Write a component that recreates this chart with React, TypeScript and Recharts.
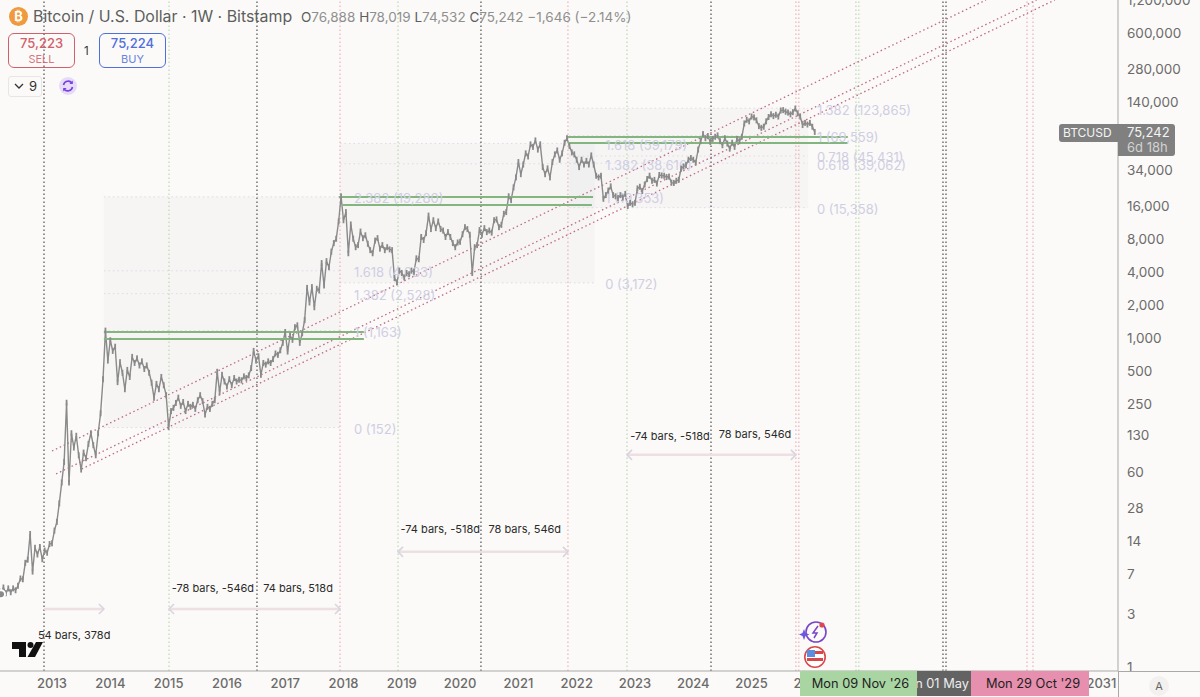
import React from 'react';
import { ComposedChart, Line, XAxis, YAxis, ReferenceLine, ReferenceArea, ReferenceDot } from 'recharts';

// half-monthly price readings (alternating highs and lows, so it looks like the candles)
const y2012 = [6, 6, 5.6, 4.6, 5.3, 4.7, 5.2, 4.8, 5.2, 5.0, 5.5, 6.4, 6.3, 8.9, 9.5, 16.3, 7.4, 12.2, 10.6, 12.4, 9.6, 11.5, 11, 13.2];
const y2013 = [13.4, 17.5, 21, 31, 48, 74, 256, 48, 135, 100, 128, 85, 63, 90, 80, 108, 135, 105, 85, 135, 205, 420, 1163, 620];
const y2014 = [950, 760, 830, 395, 600, 480, 340, 510, 440, 670, 590, 650, 560, 610, 520, 560, 480, 390, 284, 380, 340, 440, 370, 300];
const y2015 = [154, 215, 230, 255, 285, 240, 260, 215, 250, 235, 245, 225, 270, 300, 265, 200, 235, 225, 250, 270, 490, 320, 460, 400];
const y2016 = [360, 420, 370, 430, 400, 415, 410, 445, 430, 455, 530, 760, 620, 680, 460, 590, 570, 610, 590, 640, 720, 700, 770, 900];
const y2017 = [1130, 750, 1050, 960, 1250, 1300, 900, 1100, 1450, 2850, 2100, 2900, 1900, 2800, 2700, 4800, 3000, 5000, 4400, 6100, 7300, 8000, 11500, 19500];
const y2018 = [11800, 14000, 5900, 10800, 8000, 6700, 7000, 9300, 8100, 8600, 7200, 6300, 5900, 7700, 8100, 6500, 7000, 6300, 6700, 6400, 6300, 3500, 3200, 4100];
const y2019 = [3900, 3550, 3900, 3800, 4100, 4000, 5300, 5200, 8300, 7800, 9000, 13000, 9800, 11800, 10000, 11500, 9800, 9500, 8300, 9200, 8300, 7300, 6700, 7400];
const y2020 = [7500, 8800, 10200, 9800, 8700, 3900, 6700, 7000, 9600, 8700, 10000, 9200, 9500, 9100, 11800, 12000, 10200, 10700, 13500, 14000, 19500, 18000, 23500, 29000];
const y2021 = [40000, 31000, 38000, 48000, 45000, 58000, 55000, 63000, 52000, 58000, 36000, 31000, 35000, 29000, 40000, 47000, 51000, 42000, 48000, 60000, 66000, 56000, 49000, 47000];
const y2022 = [42000, 36000, 42000, 38000, 41000, 38000, 46000, 38000, 30000, 29000, 30000, 18500, 20000, 22000, 24000, 20000, 19500, 18800, 20000, 19000, 20500, 15900, 17000, 16500];
const y2023 = [17000, 23000, 23800, 21800, 25000, 28000, 30000, 27000, 27500, 25500, 30500, 30200, 30000, 29200, 29500, 26000, 25800, 27000, 27500, 34800, 36500, 37500, 42000, 43500];
const y2024 = [42000, 39500, 52000, 62000, 72000, 66000, 69000, 61000, 65000, 68000, 70000, 62000, 57000, 66000, 59000, 53000, 60000, 55000, 65000, 62000, 68000, 90000, 97000, 94000];
const y2025 = [104000, 102000, 96000, 85000, 82000, 84000, 94000, 103000, 109000, 105000, 108000, 104000, 118000, 119000, 115000, 113000, 109000, 114000, 123000, 111000, 104000, 87000, 91000, 88000];
const y2026 = [91000, 84000, 75242];

const priceYears = [y2012, y2013, y2014, y2015, y2016, y2017, y2018, y2019, y2020, y2021, y2022, y2023, y2024, y2025, y2026];
const priceData = priceYears.flatMap((vals, i) => vals.map((price, k) => ({ year: 2012 + i + k / 24, price })));

// 2027-2030 sit under the date tags
const yearTicks = [2013, 2014, 2015, 2016, 2017, 2018, 2019, 2020, 2021, 2022, 2023, 2024, 2025, 2026, 2031];
const priceTicks = [1, 3, 7, 14, 28, 60, 130, 250, 500, 1000, 2000, 4000, 8000, 16000, 34000, 140000, 280000, 600000, 1200000];

// cycle markers, by date
const darkCycleLines = [2012.863, 2016.516, 2020.358, 2024.304, 2028.283, 2028.335];
const greenCycleLines = [2015.007, 2018.935, 2022.863, 2026.79, 2026.84];
const redCycleLines = [2017.94, 2021.85, 2025.76, 2025.81, 2029.724, 2029.827];

// rising channel: [startYear, startPrice, endYear, endPrice]
const channelLines = [
  [2013.0, 93, 2029.02, 1200000],
  [2013.07, 57.5, 2029.89, 1200000],
  [2013.51, 63.8, 2030.2, 1200000],
];

// horizontal zones: [fromYear, toYear, price]
const greenLevels = [
  [2013.89, 2018.35, 1132],
  [2013.89, 2018.35, 978],
  [2017.92, 2022.28, 19250],
  [2017.98, 2022.26, 16270],
  [2021.83, 2026.65, 67800],
  [2021.85, 2026.65, 59800],
];

// fib boxes: [fromYear, toYear, bottom, top]
const fibBoxes = [
  [2013.89, 2017.94, 152, 19280],
  [2017.94, 2022.31, 3172, 59179],
  [2021.87, 2025.97, 15358, 123865],
];
const fibLevels = [
  { box: 0, price: 152, text: '0 (152)' },
  { box: 0, price: 1163, text: '1 (1,163)' },
  { box: 0, price: 2528, text: '1.382 (2,528)' },
  { box: 0, price: 4083, text: '1.618 (4,083)' },
  { box: 0, price: 19280, text: '2.382 (19,280)' },
  { box: 1, price: 3172, text: '0 (3,172)' },
  { box: 1, price: 19353, text: '1 (19,353)' },
  { box: 1, price: 38616, text: '1.382 (38,616)' },
  { box: 1, price: 59179, text: '1.618 (59,179)' },
  { box: 2, price: 15358, text: '0 (15,358)' },
  { box: 2, price: 39062, text: '0.618 (39,062)' },
  { box: 2, price: 45431, text: '0.718 (45,431)' },
  { box: 2, price: 69559, text: '1 (69,559)' },
  { box: 2, price: 123865, text: '1.382 (123,865)' },
];
const fibLabelYears = [2018.18, 2022.49, 2026.12];

// date ranges: [fromYear, toYear, price]; the head sits on toYear
const rangeArrows = [
  [2012.863, 2013.89, 3.38],
  [2016.516, 2015.007, 3.38],
  [2016.516, 2017.94, 3.38],
  [2020.358, 2018.935, 11.2],
  [2020.358, 2021.85, 11.2],
  [2024.304, 2022.863, 85.8],
  [2024.304, 2025.76, 85.8],
];
const rangeLabels = [
  { year: 2013.38, price: 1.96, text: '54 bars, 378d' },
  { year: 2015.76, price: 5.25, text: '-78 bars, -546d' },
  { year: 2017.22, price: 5.25, text: '74 bars, 518d' },
  { year: 2019.66, price: 18.2, text: '-74 bars, -518d' },
  { year: 2021.11, price: 18.2, text: '78 bars, 546d' },
  { year: 2023.6, price: 127, text: '-74 bars, -518d' },
  { year: 2025.06, price: 133, text: '78 bars, 546d' },
];

const FONT = 'Inter, "Noto Sans", sans-serif';
const BG = '#fbfaf8';
const AXIS = '#a9a9a9';
const CANDLE = '#8a8a8a';

const textShape = (text: string, color: string, size: number, anchor: string, dy = '0.35em') => (p: any) => (
  <text x={p.cx} y={p.cy} dy={dy} textAnchor={anchor} fontSize={size} fill={color} fontFamily={FONT}>{text}</text>
);

const arrowHead = (dir: number) => (p: any) => (
  <path d={`M${p.cx - dir * 5} ${p.cy - 5} L${p.cx} ${p.cy} L${p.cx - dir * 5} ${p.cy + 5}`} fill="none" stroke="#d8d4e0" strokeWidth={1.6} />
);

// small body at each reading so the line reads as candles
const candleDot = (p: any) => (
  <rect key={p.index} x={p.cx - 0.9} y={p.cy - 3} width={1.8} height={6} fill={CANDLE} />
);

const Box = ({ x, y, w, h, style, children }: any) => (
  <div style={{ position: 'absolute', left: x, top: y, width: w, height: h, boxSizing: 'border-box', fontFamily: FONT, ...style }}>{children}</div>
);

const TradeBox = ({ x, color, price, side }: any) => (
  <Box x={x} y={33} w={67} h={35} style={{ border: `1px solid ${color}`, borderRadius: 6, textAlign: 'center', color }}>
    <div style={{ fontSize: 13, lineHeight: '17px', marginTop: 1, fontWeight: 500 }}>{price}</div>
    <div style={{ fontSize: 11, lineHeight: '14px', opacity: 0.85 }}>{side}</div>
  </Box>
);

const DateTag = ({ x, w, bg, color, shift = 0, children }: any) => (
  <Box x={x} y={671} w={w} h={25} style={{ background: bg, color, fontSize: 12.8, lineHeight: '25px', textAlign: 'center', overflow: 'hidden', whiteSpace: 'nowrap', display: 'flex', justifyContent: 'center', paddingLeft: shift }}>
    <span style={{ flexShrink: 0 }}>{children}</span>
  </Box>
);

export default function App() {
  return (
    <div style={{ position: 'absolute', left: 0, top: 0, width: 1200, height: 697, background: BG, overflow: 'hidden' }}>
      <ComposedChart width={1200} height={697} data={priceData} margin={{ top: 0, right: 0, bottom: 0, left: 0 }}>
        <XAxis
          dataKey="year" type="number" domain={[2012.108, 2031.285]} allowDataOverflow
          ticks={yearTicks} interval={0} tickLine={false} tickSize={0} tickMargin={8} height={26}
          tick={{ fill: '#6b6b6b', fontSize: 13, fontFamily: FONT, fontWeight: 500 }} stroke={AXIS}
        />
        <YAxis
          orientation="right" type="number" scale="log" domain={[0.919, 1200000]} allowDataOverflow
          ticks={priceTicks} interval={0} tickLine={false} tickSize={0} tickMargin={9} width={82}
          tickFormatter={(v: number) => v.toLocaleString('en-US')}
          tick={{ fill: '#6b6b6b', fontSize: 13.5, fontFamily: FONT, textAnchor: 'start' }} stroke={AXIS}
        />

        {fibBoxes.map((b, i) => (
          <ReferenceArea key={`box${i}`} x1={b[0]} x2={b[1]} y1={b[2]} y2={b[3]} fill="#8a8a9a" fillOpacity={0.04} stroke="none" />
        ))}
        {fibLevels.map((l, i) => (
          <ReferenceLine key={`lvl${i}`} segment={[{ x: fibBoxes[l.box][0], y: l.price }, { x: fibBoxes[l.box][1], y: l.price }]} stroke="#dcdae6" strokeDasharray="1.5 3" />
        ))}
        {fibLevels.map((l, i) => (
          <ReferenceDot key={`lab${i}`} x={fibLabelYears[l.box]} y={l.price} shape={textShape(l.text, '#d0cee3', 13, 'start', '0.5em')} />
        ))}

        {darkCycleLines.map((x) => <ReferenceLine key={`d${x}`} x={x} stroke="#4f4f4f" strokeWidth={1.2} strokeDasharray="1.5 2.5" />)}
        {greenCycleLines.map((x) => <ReferenceLine key={`g${x}`} x={x} stroke="#b9d8b4" strokeWidth={1.2} strokeDasharray="1.5 2.5" />)}
        {redCycleLines.map((x) => <ReferenceLine key={`r${x}`} x={x} stroke="#eab2b8" strokeWidth={1.2} strokeDasharray="1.5 2.5" />)}

        {channelLines.map((c, i) => (
          <ReferenceLine key={`ch${i}`} segment={[{ x: c[0], y: c[1] }, { x: c[2], y: c[3] }]} stroke="#bd6a8a" strokeWidth={1.3} strokeDasharray="1.5 2.8" />
        ))}

        <Line dataKey="price" type="linear" stroke={CANDLE} strokeWidth={1.4} dot={candleDot} isAnimationActive={false} />

        {greenLevels.map((g, i) => (
          <ReferenceLine key={`z${i}`} segment={[{ x: g[0], y: g[2] }, { x: g[1], y: g[2] }]} stroke="#82b67e" strokeWidth={2} />
        ))}

        {rangeArrows.map((a, i) => (
          <ReferenceLine key={`a${i}`} segment={[{ x: a[0], y: a[2] }, { x: a[1], y: a[2] }]} stroke="#eee0e2" strokeWidth={2.5} />
        ))}
        {rangeArrows.map((a, i) => (
          <ReferenceDot key={`h${i}`} x={a[1]} y={a[2]} shape={arrowHead(a[1] > a[0] ? 1 : -1)} />
        ))}
        {rangeLabels.map((l, i) => (
          <ReferenceDot key={`t${i}`} x={l.year} y={l.price} shape={textShape(l.text, '#2a2a2a', 11, 'middle')} />
        ))}
      </ComposedChart>

      {/* axis lines run on through the corner */}
      <Box x={1118} y={671} w={1} h={26} style={{ background: AXIS }} />
      <Box x={1118} y={671} w={82} h={1} style={{ background: AXIS }} />

      {/* header */}
      <svg style={{ position: 'absolute', left: 9, top: 7 }} width={19} height={19}>
        <circle cx={9.5} cy={9.5} r={9.5} fill="#ef9a3c" />
        <text x={9.5} y={14} textAnchor="middle" fontSize={13} fontWeight={700} fill="#fff" fontFamily={FONT}>₿</text>
      </svg>
      <Box x={33} y={6} w={265} h={22} style={{ fontSize: 15.9, lineHeight: '22px', color: '#5e5e5e', whiteSpace: 'nowrap' }}>Bitcoin / U.S. Dollar · 1W · Bitstamp</Box>
      <Box x={301} y={6} w={310} h={22} style={{ fontSize: 13.5, lineHeight: '22px', color: '#8f8f8f', whiteSpace: 'nowrap' }}>
        <span style={{ color: '#5e5e5e' }}>O</span>76,888 <span style={{ color: '#5e5e5e' }}>H</span>78,019 <span style={{ color: '#5e5e5e' }}>L</span>74,532 <span style={{ color: '#5e5e5e' }}>C</span>75,242 −1,646 (−2.14%)
      </Box>
      <TradeBox x={8} color="#d0606c" price="75,223" side="SELL" />
      <Box x={84} y={42} w={8} h={18} style={{ fontSize: 11.5, lineHeight: '18px', color: '#333' }}>1</Box>
      <TradeBox x={99} color="#4f6fdc" price="75,224" side="BUY" />
      <Box x={8} y={76} w={34} h={21} style={{ border: '1px solid #e6e6e4', borderRadius: 3, fontSize: 13, lineHeight: '19px', color: '#333', paddingLeft: 20 }}>9</Box>
      <svg style={{ position: 'absolute', left: 14, top: 83 }} width={10} height={7}>
        <path d="M1 1 L5 5 L9 1" fill="none" stroke="#333" strokeWidth={1.3} />
      </svg>
      <svg style={{ position: 'absolute', left: 59, top: 77 }} width={18} height={18}>
        <circle cx={9} cy={9} r={9} fill="#e7dcf8" />
        <path d="M4.5 8 A4.8 4.8 0 0 1 13 6 M13.5 10 A4.8 4.8 0 0 1 5 12" fill="none" stroke="#7a3fe0" strokeWidth={1.6} />
        <path d="M13.8 3.4 V7 H10.4 M4.2 14.6 V11 H7.6" fill="#7a3fe0" />
      </svg>

      {/* last price badge */}
      <Box x={1059} y={124} w={60} h={18} style={{ background: '#808080', borderRadius: '3px 0 0 3px', color: '#f4f4f4', fontSize: 12, lineHeight: '18px', paddingLeft: 4 }}>BTCUSD</Box>
      <Box x={1118} y={124} w={57} h={32} style={{ background: '#808080', borderRadius: '0 3px 3px 0', color: '#f4f4f4', fontSize: 13, lineHeight: '15px', paddingLeft: 9, paddingTop: 1 }}>
        75,242<div style={{ color: '#d2d2d2' }}>6d 18h</div>
      </Box>

      {/* vertical line date tags */}
      <DateTag x={800} w={117} bg="#a9d5a3" color="#1f1f1f" shift={4}>Mon 09 Nov '26</DateTag>
      <DateTag x={917} w={54} bg="#636363" color="#eeeeee">Mon 01 May '28</DateTag>
      <DateTag x={971} w={118} bg="#e68fae" color="#1f1f1f" shift={6}>Mon 29 Oct '29</DateTag>

      <Box x={1149} y={676} w={20} h={20} style={{ background: '#f2f1ef', borderRadius: 10, textAlign: 'center', fontSize: 11, lineHeight: '20px', color: '#666' }}>A</Box>

      {/* logo */}
      <svg style={{ position: 'absolute', left: 12, top: 641 }} width={32} height={17}>
        <path d="M0 1 H14 V16 H7 V8 H0 Z" fill="#111" />
        <circle cx={18.5} cy={4} r={3} fill="#111" />
        <path d="M24 1 H31 L23 16 H15.5 Z" fill="#111" />
      </svg>

      {/* news and event icons */}
      <svg style={{ position: 'absolute', left: 799, top: 620 }} width={32} height={50}>
        <circle cx={17} cy={12} r={10} fill="none" stroke="#7b45c8" strokeWidth={1.6} />
        <path d="M19 6 L14 13 H18 L15 18" fill="none" stroke="#7b45c8" strokeWidth={1.5} />
        <circle cx={23} cy={5} r={2.6} fill="#e0474c" />
        <path d="M5 9 L6.5 13 L10.5 14.5 L6.5 16 L5 20 L3.5 16 L0 14.5 L3.5 13 Z" fill="#6a5ae0" />
        <circle cx={16} cy={37} r={10.2} fill="#fff" stroke="#d8484a" strokeWidth={1.6} />
        <rect x={8} y={31} width={16} height={3} fill="#d8484a" />
        <rect x={8} y={38} width={16} height={3} fill="#d8484a" />
        <rect x={8} y={30} width={8} height={7} fill="#5b8de0" />
      </svg>
    </div>
  );
}
